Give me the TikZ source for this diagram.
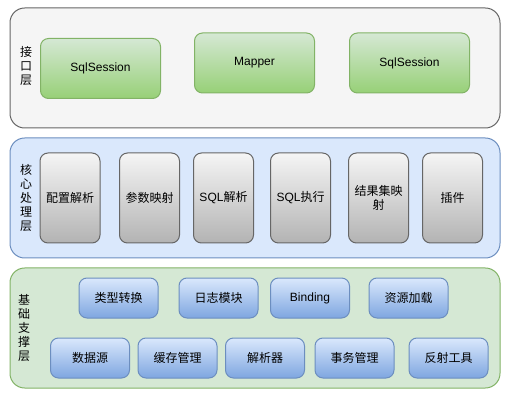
\documentclass[tikz,border=0pt]{standalone}
\usepackage{fontspec}
\setmainfont{Liberation Sans}
\newfontfamily\cjk{Noto Sans CJK SC}
\newfontfamily\lat{Liberation Sans}
\definecolor{l1fill}{HTML}{F5F5F5}
\definecolor{l1line}{HTML}{666666}
\definecolor{l2fill}{HTML}{DAE8FC}
\definecolor{l2line}{HTML}{6C8EBF}
\definecolor{l3fill}{HTML}{D5E8D4}
\definecolor{l3line}{HTML}{82B366}
\definecolor{gtop}{HTML}{D5E8D4}
\definecolor{gbot}{HTML}{97D077}
\definecolor{grtop}{HTML}{F5F5F5}
\definecolor{grbot}{HTML}{B3B3B3}
\definecolor{btop}{HTML}{DAE8FC}
\definecolor{bbot}{HTML}{7EA6E0}
\tikzset{
  layer/.style={line width=0.75pt, rounded corners=11pt},
  lbl/.style={font=\cjk\fontsize{9pt}{10.5pt}\selectfont, align=center, inner sep=0pt},
  box/.style={line width=0.75pt, rounded corners=6pt, inner sep=0pt, align=center,
    font=\cjk\fontsize{9pt}{11pt}\selectfont},
  gbox/.style={box, draw=l3line, top color=gtop, bottom color=gbot, minimum width=90pt, minimum height=45pt},
  graybox/.style={box, draw=l1line, top color=grtop, bottom color=grbot, minimum width=45pt, minimum height=67.5pt},
  bbox/.style={box, draw=l2line, top color=btop, bottom color=bbot, minimum width=59.25pt, minimum height=30pt},
}
\begin{document}
\begin{tikzpicture}[x=0.75pt,y=-0.75pt]
\useasboundingbox (0,0) rectangle (513,402);
% layers
\draw[layer, draw=l1line, fill=l1fill] (10,8) rectangle (500,128);
\draw[layer, draw=l2line, fill=l2fill] (10,138) rectangle (500,258);
\draw[layer, draw=l3line, fill=l3fill] (10,268) rectangle (500,388);
\node[lbl] (L1) at (26,66) {接\\口\\层};
\node[lbl] (L2) at (26,198) {核\\心\\处\\理\\层};
\node[lbl] (L3) at (24,328) {基\\础\\支\\撑\\层};
% interface layer
\node[gbox] (s1) at (100.5,68.5) {\lat SqlSession};
\node[gbox] (m) at (254.5,63) {\lat Mapper};
\node[gbox] (s2) at (409.5,63) {\lat SqlSession};
% core layer
\node[graybox] (c1) at (70,198) {配置解析};
\node[graybox] (c2) at (149.5,198) {参数映射};
\node[graybox] (c3) at (223.5,198) {{\lat SQL}解析};
\node[graybox] (c4) at (300.5,198) {{\lat SQL}执行};
\node[graybox] (c5) at (378.5,198) {结果集映\\射};
\node[graybox] (c6) at (452.5,198) {插件};
% base layer
\node[bbox] (b1) at (118.5,298) {类型转换};
\node[bbox] (b2) at (218.5,298) {日志模块};
\node[bbox] (b3) at (310,298) {\lat Binding};
\node[bbox] (b4) at (408.5,298) {资源加载};
\node[bbox] (b5) at (90,358) {数据源};
\node[bbox] (b6) at (177.5,358) {缓存管理};
\node[bbox] (b7) at (265,358) {解析器};
\node[bbox] (b8) at (354.5,358) {事务管理};
\node[bbox] (b9) at (448.5,358) {反射工具};
\end{tikzpicture}
\end{document}
